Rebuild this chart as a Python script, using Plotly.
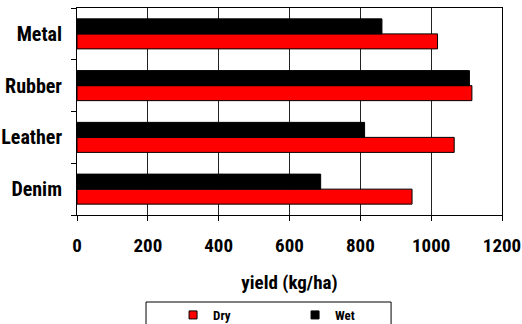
import plotly.graph_objects as go

# Yield by mulch material, dry vs wet conditions
materials = ["Denim", "Leather", "Rubber", "Metal"]
dry_yield = [946, 1065, 1115, 1018]
wet_yield = [688, 812, 1108, 861]
x_ticks = [0, 200, 400, 600, 800, 1000, 1200]

series = [("Dry", dry_yield, "#ff0000"), ("Wet", wet_yield, "#000000")]

FONT = "Roboto Condensed, Liberation Sans, sans-serif"

fig = go.Figure()
for name, values, color in series:
    fig.add_trace(go.Bar(
        y=materials, x=values, name=name, orientation="h", legendgroup=name,
        showlegend=False,
        marker=dict(color=color, line=dict(color="#000000", width=1)),
    ))
# small square legend keys
for name, values, color in series:
    fig.add_trace(go.Scatter(
        x=[None], y=[None], mode="markers", name=name, legendgroup=name,
        marker=dict(symbol="square", size=8, color=color, line=dict(color="#000000", width=1)),
    ))

fig.update_layout(
    width=522, height=324,
    margin=dict(l=77, r=20, t=8, b=109, autoexpand=False),
    paper_bgcolor="white", plot_bgcolor="white",
    barmode="group", bargap=0.42, bargroupgap=0,
    font=dict(family=FONT, color="black"),
    xaxis=dict(
        range=[0, 1200], tickvals=x_ticks, ticktext=[str(v) for v in x_ticks],
        showgrid=True, gridcolor="#222222", gridwidth=1,
        showline=True, linecolor="black", linewidth=1, mirror=True,
        ticks="outside", ticklen=5, tickcolor="black", ticklabelstandoff=8,
        tickfont=dict(size=19, family=FONT, weight="bold"),
        title=dict(text="yield (kg/ha)", font=dict(size=19, family=FONT, weight="bold"), standoff=19),
        zeroline=False, fixedrange=True, automargin=False,
    ),
    yaxis=dict(
        showline=True, linecolor="black", linewidth=1, mirror=True,
        ticks="outside", ticklen=5, tickcolor="black", tickson="boundaries",
        ticklabelstandoff=10,
        tickfont=dict(size=20, family=FONT, weight="bold"),
        showgrid=False, fixedrange=True, automargin=False,
    ),
    legend=dict(
        orientation="h", x=0.226, xanchor="left", y=-0.483, yanchor="middle",
        borderwidth=0, bgcolor="rgba(0,0,0,0)",
        font=dict(size=13, family=FONT, weight="bold"),
        entrywidth=77, itemwidth=30, traceorder="normal",
    ),
    shapes=[dict(
        type="rect", xref="paper", yref="paper",
        x0=0.1624, x1=0.739, y0=-0.4203, y1=-0.56,
        line=dict(color="black", width=1), fillcolor="rgba(0,0,0,0)",
    )],
)

fig.write_html("out.html")
